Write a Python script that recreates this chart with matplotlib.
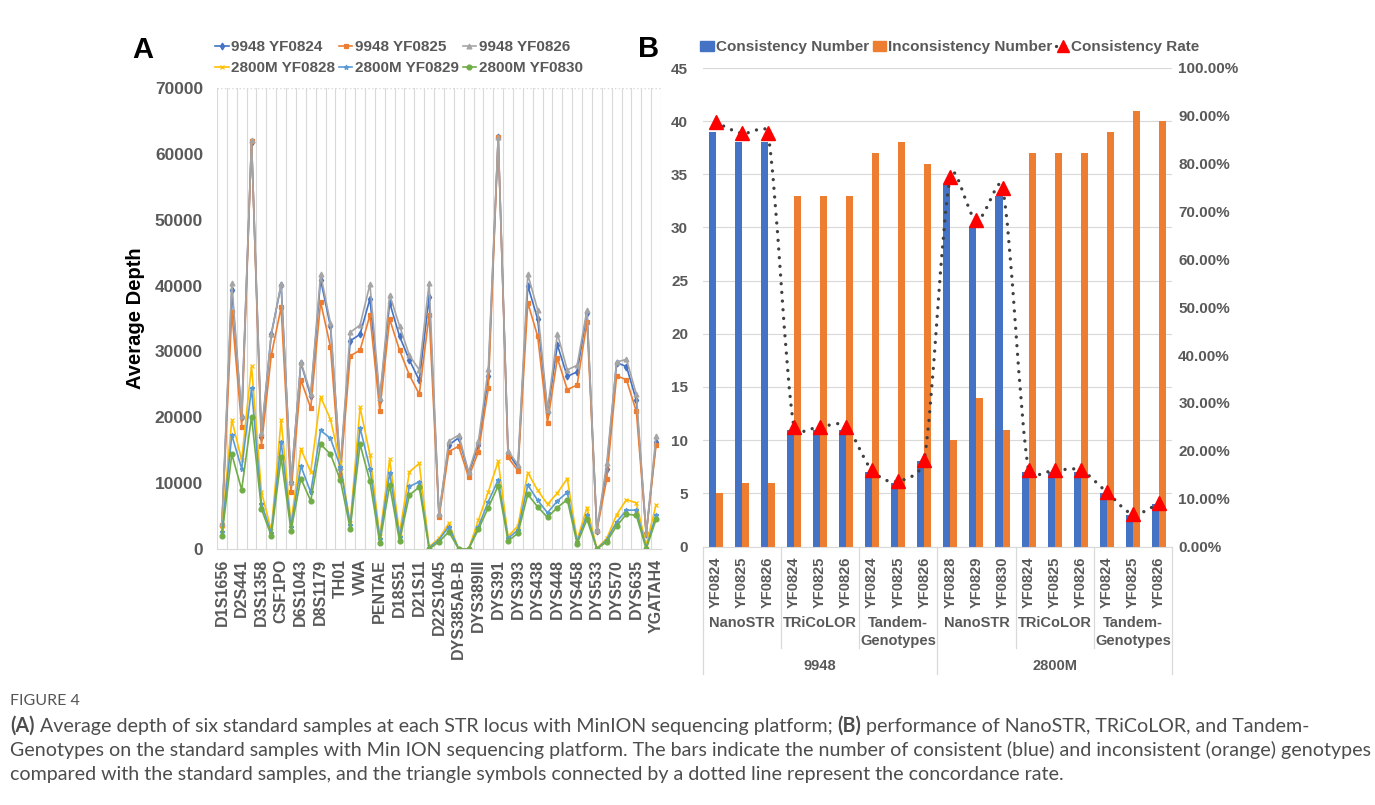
import matplotlib
matplotlib.use("Agg")
import matplotlib.pyplot as plt
import matplotlib.ticker as mticker
import matplotlib.transforms as mtransforms
import numpy as np
from matplotlib.lines import Line2D
from matplotlib.patches import Patch, PathPatch
from matplotlib.path import Path

plt.rcParams["font.family"] = ["Liberation Sans", "DejaVu Sans"]

# ---------------- panel A data ----------------
LOCI = [
    "D1S1656", "D2S1338", "D2S441", "FGA", "D3S1358", "D5S818", "CSF1PO",
    "D7S820", "D6S1043", "D10S1248", "D8S1179", "D12S391", "TH01", "D13S317",
    "VWA", "D16S539", "PENTAE", "D19S433", "D18S51", "PENTAD", "D21S11",
    "D20S482", "D22S1045", "DYS385AB-A", "DYS385AB-B", "DYS389I", "DYS389III",
    "DYS390", "DYS391", "DYS392", "DYS393", "DYS437", "DYS438", "DYS439",
    "DYS448", "DYS456", "DYS458", "DYS481", "DYS533", "DYS549", "DYS570",
    "DYS576", "DYS635", "DYS643", "YGATAH4",
]

DEPTH_9948_YF0824 = [
    3500, 39400, 20100, 61800, 17000, 32600, 40100, 10100, 28300, 23200,
    40900, 33800, 12200, 31600, 32600, 38000, 22600, 37400, 32300, 28700,
    25600, 38300, 5200, 15800, 16900, 11500, 15800, 26200, 62500, 14600,
    12400, 40000, 34900, 20800, 31000, 26200, 26900, 35900, 2800, 12200,
    28300, 27700, 22600, 2300, 16300,
]
DEPTH_9948_YF0825 = [
    3700, 36000, 18600, 62000, 15700, 29400, 36700, 8600, 25700, 21400,
    37500, 30700, 11200, 29300, 30200, 35500, 21000, 34900, 30200, 26400,
    23500, 35600, 4800, 14800, 15600, 10900, 14800, 24400, 62500, 13900,
    11900, 37400, 32300, 19200, 29000, 24200, 24900, 34500, 2800, 10600,
    26300, 25700, 20900, 2300, 15800,
]
DEPTH_9948_YF0826 = [
    3900, 40400, 20200, 62100, 17600, 32600, 40200, 10200, 28400, 23600,
    41700, 34300, 12500, 32900, 34000, 40200, 22900, 38600, 33900, 29400,
    27200, 40400, 5300, 16400, 17300, 11700, 16400, 27400, 62600, 14900,
    12800, 41700, 36300, 21100, 32700, 27200, 27900, 36300, 2900, 13000,
    28400, 28800, 23500, 2400, 17200,
]
DEPTH_2800M_YF0828 = [
    3100, 19600, 13500, 27800, 8700, 2800, 19600, 3900, 15200, 11700,
    23100, 19700, 13000, 3900, 21500, 14300, 1900, 13600, 2400, 11700,
    13000, 350, 1600, 3900, 0, 0, 4400, 8700, 13300, 1900,
    3500, 11600, 8900, 6800, 8500, 10700, 1400, 6300, 100, 1600,
    5200, 7500, 7000, 600, 6700,
]
DEPTH_2800M_YF0829 = [
    2600, 17300, 12200, 24400, 6900, 2400, 16300, 3400, 12600, 8600,
    18000, 16800, 12500, 3600, 18400, 12200, 1500, 11600, 1800, 9500,
    10200, 200, 1400, 3400, 0, 0, 3400, 7200, 10500, 1600,
    2900, 9700, 7400, 5500, 7300, 8600, 1100, 5200, 0, 1400,
    4100, 5900, 5900, 200, 5200,
]
DEPTH_2800M_YF0830 = [
    2000, 14400, 9000, 20100, 6100, 2000, 13900, 2800, 10700, 7300,
    15900, 14400, 10500, 3100, 15900, 10300, 900, 9700, 1200, 8200,
    9400, 0, 1100, 2600, 0, 0, 3000, 6300, 9600, 1200,
    2400, 8300, 6400, 4800, 6300, 7500, 800, 4500, 0, 1100,
    3500, 5300, 5100, 0, 4500,
]

SERIES_A = [
    ("9948 YF0824", DEPTH_9948_YF0824, "#4472C4", "d"),
    ("9948 YF0825", DEPTH_9948_YF0825, "#ED7D31", "s"),
    ("9948 YF0826", DEPTH_9948_YF0826, "#A5A5A5", "^"),
    ("2800M YF0828", DEPTH_2800M_YF0828, "#FFC000", "x"),
    ("2800M YF0829", DEPTH_2800M_YF0829, "#5B9BD5", "*"),
    ("2800M YF0830", DEPTH_2800M_YF0830, "#70AD47", "o"),
]

# ---------------- panel B data ----------------
SAMPLES = ["9948", "2800M"]
TOOLS = ["NanoSTR", "TRiCoLOR", "Tandem-\nGenotypes"]
RUNS = [
    "YF0824", "YF0825", "YF0826", "YF0824", "YF0825", "YF0826",
    "YF0824", "YF0825", "YF0826", "YF0828", "YF0829", "YF0830",
    "YF0824", "YF0825", "YF0826", "YF0824", "YF0825", "YF0826",
]
CONSISTENT = [39, 38, 38, 11, 11, 11, 7, 6, 8, 34, 30, 33, 7, 7, 7, 5, 3, 4]
INCONSISTENT = [5, 6, 6, 33, 33, 33, 37, 38, 36, 10, 14, 11, 37, 37, 37, 39, 41, 40]
RATE = [88.64, 86.36, 86.36, 25.00, 25.00, 25.00, 15.91, 13.64, 18.18,
        77.27, 68.18, 75.00, 15.91, 15.91, 15.91, 11.36, 6.82, 9.09]

CAPTION_TITLE = "FIGURE 4"
CAPTION_LINES = [
    [("(A)", True), ("Average depth of six standard samples at each STR locus with MinION "
                     "sequencing platform;", False), ("(B)", True),
     ("performance of NanoSTR, TRiCoLOR, and Tandem-", False)],
    [("Genotypes on the standard samples with Min ION sequencing platform. The bars "
      "indicate the number of consistent (blue) and inconsistent (orange) genotypes", False)],
    [("compared with the standard samples, and the triangle symbols connected by a "
      "dotted line represent the concordance rate.", False)],
]

GRAY = "#595959"
GRID = "#D9D9D9"
W, H = 1375, 805


def excel_smooth_path(ax, x, y, k=0.45):
    """Smoothed line through the points, built in pixel space like a spreadsheet does."""
    pts = ax.transData.transform(np.column_stack([x, y]))
    n = len(pts)
    verts = [pts[0]]
    codes = [Path.MOVETO]
    for i in range(n - 1):
        p0 = pts[i - 1] if i > 0 else pts[i]
        p1, p2 = pts[i], pts[i + 1]
        p3 = pts[i + 2] if i + 2 < n else pts[i + 1]
        seg = np.hypot(*(p2 - p1))
        t1 = (p2 - p0) / 6
        t2 = (p3 - p1) / 6
        for t in (t1, t2):
            ln = np.hypot(*t)
            if ln > k * seg:
                t *= k * seg / ln
        verts += [p1 + t1, p2 - t2, p2]
        codes += [Path.CURVE4] * 3
    verts = ax.transData.inverted().transform(np.array(verts))
    return Path(verts, codes)


fig = plt.figure(figsize=(W / 100, H / 100), dpi=100)

# ---------------- panel A ----------------
axA = fig.add_axes([217 / W, 1 - 549 / H, (661 - 217) / W, (549 - 88) / H])
xA = np.arange(len(LOCI))
handles = []
for name, vals, color, marker in SERIES_A:
    (h,) = axA.plot(xA, vals, color=color, lw=1.2, marker=marker, ms=3.5,
                    mew=0.9, label=name)
    handles.append(h)

axA.set_xlim(-0.5, len(LOCI) - 0.5)
axA.set_ylim(0, 70000)
axA.set_yticks(np.arange(0, 70001, 10000))
axA.set_xticks(xA[::2])
axA.set_xticklabels(LOCI[::2], rotation=90, fontsize=11.5, fontweight="bold", color=GRAY)
axA.set_xticks(np.arange(-0.5, len(LOCI), 1), minor=True)
axA.grid(which="minor", axis="x", color=GRID, lw=0.8)
axA.axhline(70000, color=GRID, lw=1, ls=":")
axA.tick_params(axis="both", which="both", length=0)
axA.tick_params(axis="x", pad=7)
axA.tick_params(axis="y", pad=10, labelsize=12.5, labelcolor=GRAY)
for lab in axA.get_yticklabels():
    lab.set_fontweight("bold")
for side in ("left", "right", "top"):
    axA.spines[side].set_visible(False)
axA.spines["bottom"].set_color(GRID)
axA.set_ylabel("Average Depth", fontsize=14.5, fontweight="bold")
axA.yaxis.set_label_coords((145 - 217) / 444, 0.5)

order = [0, 3, 1, 4, 2, 5]
legA = axA.legend([handles[i] for i in order], [SERIES_A[i][0] for i in order],
                  ncol=3, loc="lower left", bbox_to_anchor=(-0.005, 1.028),
                  frameon=False, handlelength=0.9, handletextpad=0.15,
                  columnspacing=0.25, labelspacing=0.45, borderpad=0,
                  borderaxespad=0, prop={"size": 11, "weight": "bold"})
for t in legA.get_texts():
    t.set_color(GRAY)

fig.text(143 / W, 1 - 50 / H, "A", fontsize=21, fontweight="bold", ha="center", va="center")
fig.text(649 / W, 1 - 49 / H, "B", fontsize=21, fontweight="bold", ha="center", va="center")

# ---------------- panel B ----------------
axB = fig.add_axes([702.7 / W, 1 - 546.5 / H, (1172 - 702.7) / W, (546.5 - 68) / H])
xB = np.arange(len(RUNS))
bw = 0.27
axB.bar(xB - bw / 2, CONSISTENT, width=bw, color="#4472C4", zorder=2)
axB.bar(xB + bw / 2, INCONSISTENT, width=bw, color="#ED7D31", zorder=2)
axB.set_xlim(-0.5, len(RUNS) - 0.5)
axB.set_ylim(0, 45)
axB.set_yticks(np.arange(0, 46, 5))
axB.grid(axis="y", color=GRID, lw=0.8, zorder=0)
axB.set_axisbelow(True)
axB.set_xticks(xB)
axB.set_xticklabels(RUNS, rotation=90, fontsize=10.5, fontweight="bold", color=GRAY)
axB.tick_params(axis="both", length=0)
axB.tick_params(axis="x", pad=7)
axB.tick_params(axis="y", pad=10.5, labelsize=11, labelcolor=GRAY)
for lab in axB.get_yticklabels():
    lab.set_fontweight("bold")
for side in ("left", "right", "top"):
    axB.spines[side].set_visible(False)
axB.spines["bottom"].set_color(GRID)

axR = axB.twinx()
axR.set_ylim(0, 100)
axR.set_yticks(np.arange(0, 101, 10))
axR.yaxis.set_major_formatter(mticker.FuncFormatter(lambda v, _: f"{v:.2f}%"))
axR.tick_params(axis="y", length=0, pad=4.5, labelsize=11, labelcolor=GRAY)
for lab in axR.get_yticklabels():
    lab.set_fontweight("bold")
for side in ("left", "right", "top", "bottom"):
    axR.spines[side].set_visible(False)

dots = (0, (0.01, 2.6))
axR.add_patch(PathPatch(excel_smooth_path(axR, xB, RATE), facecolor="none",
                        edgecolor="#404040", lw=2.4, linestyle=dots,
                        capstyle="round", zorder=3))
axR.plot(xB, RATE, ls="none", marker="^", ms=10, color="#FF0000", zorder=4)

# two-level category labels
trans = mtransforms.blended_transform_factory(axB.transData, axB.transAxes)
ax_h = 546.5 - 68


def ax_y(py):
    return (546.5 - py) / ax_h


for g in range(len(SAMPLES) * len(TOOLS)):
    tool = TOOLS[g % len(TOOLS)]
    axB.text(3 * g + 1, ax_y(632 if "\n" in tool else 623), tool, transform=trans,
             ha="center", va="center", fontsize=10.5, fontweight="bold",
             color=GRAY, linespacing=1.35)
for s, sample in enumerate(SAMPLES):
    axB.text(9 * s + 4, ax_y(666), sample, transform=trans, ha="center",
             va="center", fontsize=10.5, fontweight="bold", color=GRAY)
for xb in np.arange(-0.5, len(RUNS), 3):
    long_line = xb in (-0.5, 8.5, 17.5)
    axB.plot([xb, xb], [0, ax_y(674 if long_line else 648)], transform=trans,
             color=GRID, lw=0.9, clip_on=False)

rate_handle = Line2D([], [], color="#404040", lw=2.4, linestyle=dots,
                     dash_capstyle="round", marker="^", ms=9,
                     markerfacecolor="#FF0000", markeredgecolor="#FF0000")
legB = axB.legend([Patch(color="#4472C4"), Patch(color="#ED7D31"), rate_handle],
                  ["Consistency Number", "Inconsistency Number", "Consistency Rate"],
                  ncol=3, loc="lower left", bbox_to_anchor=(-0.005, 1.029),
                  frameon=False, handlelength=0.9, handleheight=0.6,
                  handletextpad=0.1, columnspacing=0.25, borderpad=0,
                  borderaxespad=0, prop={"size": 11, "weight": "bold"})
for t in legB.get_texts():
    t.set_color(GRAY)

# ---------------- caption ----------------
CAP_FONT = ["Lato", "DejaVu Sans"]
CAP_SIZE = 14.1
fig.text(10 / W, 1 - 701 / H, CAPTION_TITLE, fontsize=11.5, color="#555555",
         va="center", family=CAP_FONT)

renderer = fig.canvas.get_renderer()
probe = fig.text(0, 0, "x x", fontsize=CAP_SIZE, family=CAP_FONT)
probe2 = fig.text(0, 0, "xx", fontsize=CAP_SIZE, family=CAP_FONT)
space_w = probe.get_window_extent(renderer).width - probe2.get_window_extent(renderer).width
probe.remove()
probe2.remove()

for k, parts in enumerate(CAPTION_LINES):
    y = 1 - (732 + 24 * k) / H
    x_px = 10
    for text, bold in parts:
        t = fig.text(x_px / W, y, text, fontsize=CAP_SIZE, color="#4d4d4d",
                     fontweight="bold" if bold else "normal", family=CAP_FONT,
                     va="baseline")
        x_px = t.get_window_extent(renderer).x1 + space_w

fig.savefig("out.png", dpi=100)
